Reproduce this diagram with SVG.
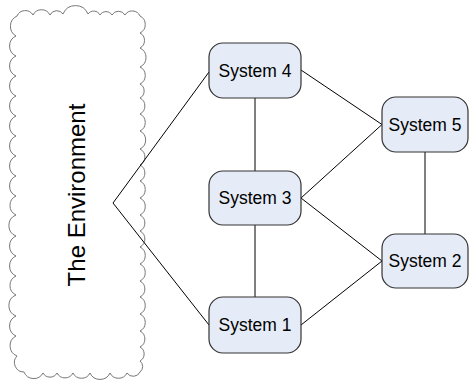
<svg xmlns="http://www.w3.org/2000/svg" width="470" height="389" viewBox="0 0 470 389">
<style>
.node rect{fill:#E6ECF7;stroke:#333;stroke-width:1.2}
.node text{font-family:"Liberation Sans",Arial,sans-serif;font-size:17.5px;fill:#000;text-anchor:middle}
.conn line,.conn polyline{stroke:#000;stroke-width:1;fill:none}
.cloud{fill:#fff;stroke:#777;stroke-width:1}
</style>
<rect width="470" height="389" fill="#fff"/>
<g id="environment">
<path class="cloud" d="M17,16 A9,9 0 0 1 33,15 A9.5,9.5 0 0 1 50,15 A7.5,7.5 0 0 1 63,14 A13.5,13.5 0 0 1 88,14 A7,7 0 0 1 100,15 A7,7 0 0 1 112,15 A7.5,7.5 0 0 1 125,15 A8.5,8.5 0 0 1 140,16
A9.5,9.5 0 0 1 140,33 A8.5,8.5 0 0 1 140,48 A10.5,10.5 0 0 1 140,67 A9.5,9.5 0 0 1 140,84 A8,8 0 0 1 140,98 A9,9 0 0 1 140,114 A9.5,9.5 0 0 1 140,131 A10,10 0 0 1 140,149 A9,9 0 0 1 140,165 A9,9 0 0 1 140,181 A9.5,9.5 0 0 1 140,198 A9.5,9.5 0 0 1 140,215 A9,9 0 0 1 140,231 A9,9 0 0 1 140,247 A9.5,9.5 0 0 1 140,264 A9.5,9.5 0 0 1 140,281 A9,9 0 0 1 140,297 A9.5,9.5 0 0 1 140,314 A9.5,9.5 0 0 1 140,331 A9,9 0 0 1 140,347 A8,8 0 0 1 140,361 A7,7 0 0 1 140,372
A7.5,7.5 0 0 1 127,373 A9.5,9.5 0 0 1 110,373 A11,11 0 0 1 90,373 A9.5,9.5 0 0 1 73,373 A9,9 0 0 1 57,373 A8,8 0 0 1 43,373 A10.5,10.5 0 0 1 24,372 A9.5,9.5 0 0 1 17,356
A11,11 0 0 1 16,336 A11,11 0 0 1 16,316 A11.3,11.3 0 0 1 16,295 A10.5,10.5 0 0 1 16,276 A11,11 0 0 1 16,256 A11,11 0 0 1 16,236 A11.3,11.3 0 0 1 16,215 A10.5,10.5 0 0 1 16,196 A11,11 0 0 1 16,176 A11,11 0 0 1 16,156 A11,11 0 0 1 16,136 A11,11 0 0 1 16,116 A11,11 0 0 1 16,96 A11,11 0 0 1 16,76 A11,11 0 0 1 16,56 A11,11 0 0 1 16,36 A11.3,11.3 0 0 1 17,16 Z"/>
<text transform="translate(85,195) rotate(-90)" font-family="'Liberation Sans',Arial,sans-serif" font-size="24" text-anchor="middle" fill="#000">The Environment</text>
</g>
<g id="connectors" class="conn">
<polyline points="209,72 113,203 209,325"/>
<line x1="255" y1="98" x2="255" y2="171"/>
<line x1="255" y1="225" x2="255" y2="297"/>
<line x1="301" y1="70" x2="382" y2="124.5"/>
<line x1="301" y1="198" x2="382" y2="124.5"/>
<line x1="301" y1="198" x2="382" y2="261"/>
<line x1="301" y1="325" x2="382" y2="261"/>
<line x1="425" y1="152" x2="425" y2="234"/>
</g>
<g id="system4" class="node"><rect x="209" y="43" width="92" height="55" rx="14"/><text x="255" y="76.5">System 4</text></g>
<g id="system3" class="node"><rect x="209" y="171" width="92" height="54" rx="14"/><text x="255" y="204">System 3</text></g>
<g id="system1" class="node"><rect x="209" y="297" width="92" height="56" rx="14"/><text x="255" y="331">System 1</text></g>
<g id="system5" class="node"><rect x="382" y="97" width="86" height="55" rx="14"/><text x="425" y="130.5">System 5</text></g>
<g id="system2" class="node"><rect x="382" y="234" width="86" height="54" rx="14"/><text x="425" y="267">System 2</text></g>
</svg>
